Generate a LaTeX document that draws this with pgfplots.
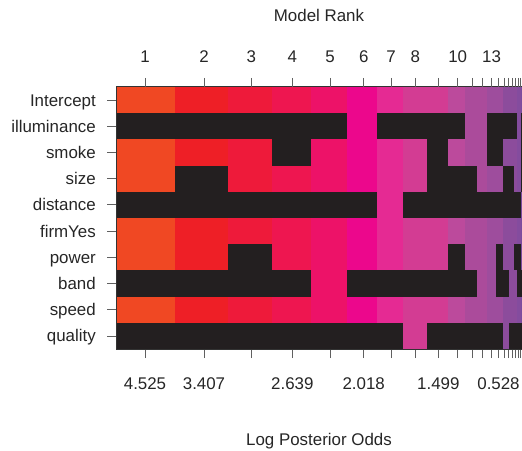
\documentclass[border=0pt]{standalone}
\usepackage{pgfplots}
\pgfplotsset{compat=1.18}
\usepackage{fontspec}
\setmainfont{Liberation Sans}
\definecolor{blk}{HTML}{231F20}
\definecolor{txt}{HTML}{262626}
\definecolor{ca}{HTML}{F04823}
\definecolor{cb}{HTML}{EE1F26}
\definecolor{cc}{HTML}{EE1A3A}
\definecolor{cd}{HTML}{EE1650}
\definecolor{ce}{HTML}{ED1268}
\definecolor{cf}{HTML}{EC078C}
\definecolor{cg}{HTML}{E52A93}
\definecolor{ch}{HTML}{D33C93}
\definecolor{ci}{HTML}{BC4A9C}
\definecolor{cj}{HTML}{AB4B9B}
\definecolor{ck}{HTML}{9E4D9D}
\definecolor{cl}{HTML}{8C4C9C}
\definecolor{cm}{HTML}{844C9E}
\definecolor{cn}{HTML}{7B4C9E}
\newcommand{\cell}[5]{\addplot[fill=#5, draw=none, forget plot] coordinates {(#1,#3) (#2,#3) (#2,#4) (#1,#4)} -- cycle;}
\begin{document}
\fontsize{16.9}{19}\selectfont
\begin{tikzpicture}[x=1pt,y=1pt]
\useasboundingbox (0,0) rectangle (522,450);
\pgfplotsset{
  common/.style={
    at={(116pt,101pt)}, anchor=south west,
    scale only axis, width=406pt, height=262pt,
    xmin=116, xmax=522, ymin=0, ymax=10,
    tick align=outside, major tick length=9pt,
    tick style={draw=gray!75!black, line width=0.8pt},
    xtick={145,204,251.3,292.3,330,363.7,391,415.3,438.3,457.7,472,482.7,491.5,498.5,504,508.5,512.3,515.5,518.3,520.7},
    /pgf/number format/assume math mode=true,
    every tick label/.append style={text=txt, font=\fontsize{16.9}{19}\selectfont},
  },
}
\begin{axis}[common,
  axis on top,
  axis line style={draw=black!80, line width=1pt},
  xtick pos=bottom, ytick pos=left,
  xticklabels={4.525,3.407,,2.639,,2.018,,,1.499,,,,,0.528,,,,,,},
  xticklabel style={anchor=north, inner sep=0pt, yshift=-19pt},
  ytick={0.5,1.5,2.5,3.5,4.5,5.5,6.5,7.5,8.5,9.5},
  yticklabels={quality,speed,band,power,firmYes,distance,size,smoke,illuminance,Intercept},
  yticklabel style={anchor=base east, inner sep=0pt, xshift=-11pt, yshift=-6pt},
  xlabel={Log Posterior Odds},
  xlabel style={at={(axis description cs:0.5,0)}, anchor=base, yshift=-96pt, text=txt, inner sep=0pt},
]
% column colours (posterior probability intensity)
\cell{116}{174.5}{0}{10}{ca}
\cell{174.5}{227.5}{0}{10}{cb}
\cell{227.5}{271.5}{0}{10}{cc}
\cell{271.5}{311}{0}{10}{cd}
\cell{311}{346.5}{0}{10}{ce}
\cell{346.5}{377}{0}{10}{cf}
\cell{377}{403}{0}{10}{cg}
\cell{403}{448}{0}{10}{ch}
\cell{448}{464.5}{0}{10}{ci}
\cell{464.5}{487}{0}{10}{cj}
\cell{487}{503.3}{0}{10}{ck}
\cell{503.3}{517.3}{0}{10}{cl}
\cell{517.3}{520.5}{0}{10}{cm}
\cell{520.5}{522}{0}{10}{cn}
% excluded variables (black)
% illuminance
\cell{116}{346.5}{8}{9}{blk}
\cell{377}{464.5}{8}{9}{blk}
\cell{487}{517.3}{8}{9}{blk}
\cell{520.5}{522}{8}{9}{blk}
% smoke
\cell{271.5}{311}{7}{8}{blk}
\cell{426.5}{448}{7}{8}{blk}
\cell{487}{503.3}{7}{8}{blk}
\cell{520.5}{522}{7}{8}{blk}
% size
\cell{174.5}{227.5}{6}{7}{blk}
\cell{426.5}{477}{6}{7}{blk}
\cell{503.3}{514}{6}{7}{blk}
\cell{520.5}{522}{6}{7}{blk}
% distance
\cell{116}{377}{5}{6}{blk}
\cell{403}{520.5}{5}{6}{blk}
% power
\cell{227.5}{271.5}{3}{4}{blk}
\cell{448}{464.5}{3}{4}{blk}
\cell{495.7}{503.3}{3}{4}{blk}
\cell{514}{520.5}{3}{4}{blk}
% band
\cell{116}{311}{2}{3}{blk}
\cell{346.5}{477}{2}{3}{blk}
\cell{495.7}{509.3}{2}{3}{blk}
\cell{517.3}{522}{2}{3}{blk}
% quality
\cell{116}{403}{0}{1}{blk}
\cell{426.5}{503.3}{0}{1}{blk}
\cell{509.3}{522}{0}{1}{blk}
\end{axis}
\begin{axis}[common,
  axis x line*=top, axis y line=none,
  xticklabels={1,2,3,4,5,6,7,8,,10,,,13,,,,,,,},
  xticklabel style={anchor=south, inner sep=0pt, yshift=15pt},
  xlabel={Model Rank},
  xlabel style={at={(axis description cs:0.5,1)}, anchor=base, yshift=65pt, text=txt, inner sep=0pt},
  axis line style={draw=none},
]
\end{axis}
\end{tikzpicture}
\end{document}
